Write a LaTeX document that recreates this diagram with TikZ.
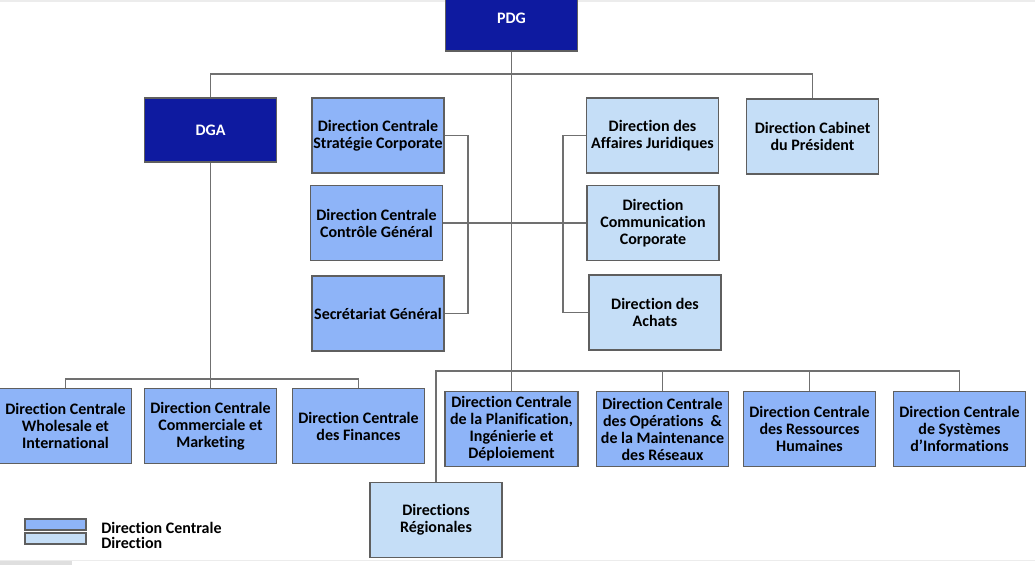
\documentclass[tikz,border=0pt]{standalone}
\usepackage{fontspec}
\setmainfont{Carlito}[Ligatures=NoCommon]
\definecolor{topblue}{HTML}{0E1AA0}
\definecolor{dcblue}{HTML}{8EB4F8}
\definecolor{dirblue}{HTML}{C5DEF7}
\definecolor{boxline}{HTML}{5F5F5F}
\definecolor{linkgray}{HTML}{707070}
\tikzset{unit/.style={draw=boxline,line width=1.1pt,align=center,inner sep=1pt,minimum width=99pt,minimum height=56.5pt},
  dc/.style={unit,fill=dcblue},
  dir/.style={unit,fill=dirblue},
  head/.style={unit,fill=topblue,text=white},
  link/.style={draw=linkgray,line width=0.9pt}}
\begin{document}
\begin{tikzpicture}[x=0.75pt,y=-0.75pt,font=\fontsize{12}{12.75}\selectfont\bfseries]
  \useasboundingbox (0,0) rectangle (1035,565);
  %page edges
  \draw[gray!15,line width=1.5pt] (0,1) -- (1035,1);
  \draw[gray!15,line width=1pt] (0,560.5) -- (1035,560.5);
  \fill[gray!25] (0,561) rectangle (72,565);
  %top
  \node[head,minimum height=49.5pt] (pdg) at (511.5,18) {PDG};
  \node[head,minimum height=48pt] (dga) at (210.5,130) {DGA};
  \node[dir] (cab) at (812.5,136.5) {Direction Cabinet\\du Président};
  %left column
  \node[dc] (strat) at (378,135.5) {Direction Centrale\\Stratégie Corporate};
  \node[dc] (ctrl) at (376.5,223) {Direction Centrale\\Contrôle Général};
  \node[dc] (sg) at (378,313.5) {Secrétariat Général};
  %right column
  \node[dir] (jur) at (652.5,135.5) {Direction des\\Affaires Juridiques};
  \node[dir] (com) at (653,223) {Direction\\Communication\\Corporate};
  \node[dir] (achats) at (655,312.5) {Direction des\\Achats};
  %under dga
  \node[dc] (whole) at (65.5,426) {Direction Centrale\\Wholesale et\\International};
  \node[dc] (comm) at (210.5,426) {Direction Centrale\\Commerciale et\\Marketing};
  \node[dc] (fin) at (358.5,426) {Direction Centrale\\des Finances};
  %under pdg
  \node[dc,minimum width=100pt] (plan) at (511.5,429) {Direction Centrale\\de la Planification,\\Ingénierie et\\Déploiement};
  \node[dc] (ops) at (662.5,429) {Direction Centrale\\des Opérations\ \ \&\\de la Maintenance\\des Réseaux};
  \node[dc] (rh) at (809.5,429) {Direction Centrale\\des Ressources\\Humaines};
  \node[dc] (si) at (959.5,429) {Direction Centrale\\de Systèmes\\d’Informations};
  \node[dir] (reg) at (436,520) {Directions\\Régionales};
  %links
  \coordinate (bar) at (511.5,74);
  \coordinate (lbr) at (468,223);
  \coordinate (rbr) at (563,223);
  \coordinate (dgabar) at (210.5,379);
  \coordinate (lowbar) at (511.5,371);
  \draw[link] (dga.north) |- (bar) -| (cab.north);
  \draw[link] (pdg.south) -- (plan.north);
  \draw[link] (strat.east) -| (lbr) |- (sg.east);
  \draw[link] (jur.west) -| (rbr) |- (achats.west);
  \draw[link] (ctrl.east) -- (com.west);
  \draw[link] (dga.south) -- (comm.north);
  \draw[link] (whole.north) |- (dgabar) -| (fin.north);
  \draw[link] (reg.north) |- (lowbar);
  \foreach \n in {ops,rh,si}
    \draw[link] (lowbar) -| (\n.north);
  %legend
  \node[dc,line width=0.9pt,minimum width=45.75pt,minimum height=8.25pt] (legdc) at (55.5,524.5) {};
  \node[dir,line width=0.9pt,minimum width=45.75pt,minimum height=8.25pt] (legdir) at (55.5,538.5) {};
  \node[anchor=west,inner sep=0pt] (legdctext) at (101,528) {Direction Centrale};
  \node[anchor=west,inner sep=0pt] (legdirtext) at (101,543) {Direction};
\end{tikzpicture}
\end{document}
